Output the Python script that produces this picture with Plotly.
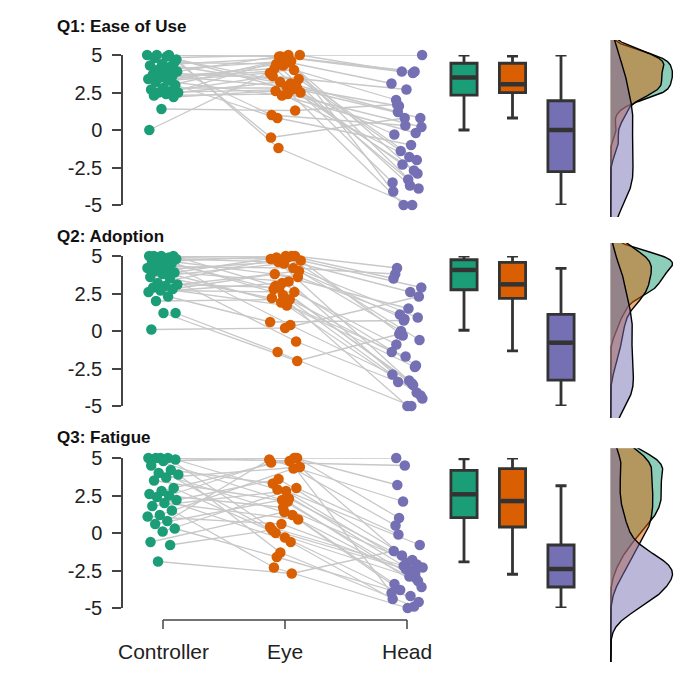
import numpy as np
import plotly.graph_objects as go

# ---------------- data ----------------
conditions = ["Controller", "Eye", "Head"]
questions = ["Q1: Ease of Use", "Q2: Adoption", "Q3: Fatigue"]
y_ticks = [5, 2.5, 0, -2.5, -5]
y_tick_labels = ["5", "2.5", "0", "-2.5", "-5"]

# per-participant ratings (same participant order across conditions)
q1_controller = [5.0, 4.9, 4.8, 4.5, 4.4, 4.3, 4.2, 4.0, 3.9, 3.8, 3.7, 3.6, 3.5, 3.4, 3.3,
                 3.2, 3.0, 2.8, 2.7, 2.6, 2.5, 2.5, 2.4, 2.3, 2.2, 1.4, 0.0, 5.0, 5.0, 4.7]
q1_eye = [4.9, 2.5, 5.0, 4.4, 3.0, 4.8, 1.0, 4.6, 4.9, 3.4, 2.9, 4.1, 4.0, 2.3, 3.8,
          4.5, 0.8, 2.8, 4.7, 3.6, 2.7, 3.2, 5.0, 2.4, 2.6, 1.3, 4.3, -0.5, 3.1, -1.2]
q1_head = [3.9, -2.3, 5.0, -3.7, 1.2, -2.9, 0.3, -4.1, 3.8, -1.4, 0.8, -3.3, 2.0, -0.2, -5.0,
           3.1, -1.0, 1.6, -3.9, 2.7, -0.3, -2.7, 3.9, 0.2, -1.8, 1.7, -2.0, 0.8, -3.5, -5.0]

q2_controller = [5.0, 5.0, 5.0, 5.0, 4.9, 4.9, 4.8, 4.7, 4.6, 4.5, 4.3, 4.2, 4.1, 4.0, 3.9,
                 3.8, 3.6, 3.5, 3.2, 3.1, 3.0, 2.9, 2.8, 2.7, 2.6, 2.3, 2.0, 1.2, 1.2, 0.1]
q2_eye = [4.9, 3.0, 5.0, 2.4, 4.8, 0.4, 4.6, 3.6, 5.0, 2.8, 4.2, 1.9, 4.7, 3.3, 4.9,
          -0.7, 4.5, 2.2, 5.0, 2.9, 4.0, 1.7, 3.8, 2.6, 3.2, 0.6, 2.1, -1.4, -2.0, 0.2]
q2_head = [2.9, -3.3, 4.2, -4.1, 0.8, -2.9, -3.5, 1.1, -0.6, -5.0, 3.8, -2.4, -0.3, -4.5, 2.6,
           -3.4, 0.9, -1.7, 3.5, -3.6, 0.0, -4.3, 1.5, -0.9, -2.3, 0.7, -1.4, -5.0, -0.2, 2.3]

q3_controller = [5.0, 5.0, 5.0, 5.0, 4.9, 4.8, 4.5, 4.2, 4.0, 3.9, 3.7, 3.5, 3.0, 2.8, 2.6,
                 2.5, 2.4, 2.2, 2.0, 1.8, 1.5, 1.2, 1.1, 0.8, 0.6, 0.3, 0.1, -0.6, -0.8, -1.9]
q3_eye = [5.0, 2.2, 0.4, 4.8, 2.9, 5.0, -0.3, 3.3, 1.2, -1.3, 4.4, 2.1, 0.0, 5.0, 1.7,
          4.7, -0.6, 3.6, 0.9, 2.8, -2.3, 4.3, 0.6, 4.9, 2.3, -1.6, 3.0, 1.4, 0.2, -2.7]
q3_head = [5.0, -3.0, -2.2, -4.0, -2.5, 1.0, -4.6, -2.0, -3.4, -4.9, -1.5, -3.6, -2.9, 3.2, -2.1,
           4.5, -4.4, -1.8, -3.8, -0.8, -5.0, 0.5, -2.7, 2.1, -2.3, -4.2, -0.1, -3.2, -2.4, -1.2]

# box statistics per question: [Controller, Eye, Head]
q1_box_low = [0.0, 0.8, -5.0]
q1_box_q1 = [2.33, 2.49, -2.78]
q1_box_median = [3.5, 3.05, 0.0]
q1_box_q3 = [4.45, 4.45, 1.95]
q1_box_high = [5.0, 4.92, 5.0]

q2_box_low = [0.05, -1.33, -5.0]
q2_box_q1 = [2.75, 2.18, -3.27]
q2_box_median = [4.07, 3.11, -0.78]
q2_box_q3 = [4.75, 4.58, 1.11]
q2_box_high = [5.0, 5.0, 4.18]

q3_box_low = [-1.93, -2.75, -5.0]
q3_box_q1 = [1.02, 0.4, -3.6]
q3_box_median = [2.58, 2.13, -2.4]
q3_box_q3 = [4.18, 4.29, -0.8]
q3_box_high = [4.95, 5.0, 3.15]

colors = ["#1B9E77", "#D95F02", "#7570B3"]
fills = ["rgba(27,158,119,0.5)", "rgba(217,95,2,0.5)", "rgba(117,112,179,0.5)"]

rows = [
    dict(title=questions[0], data=[q1_controller, q1_eye, q1_head],
         box=[q1_box_low, q1_box_q1, q1_box_median, q1_box_q3, q1_box_high]),
    dict(title=questions[1], data=[q2_controller, q2_eye, q2_head],
         box=[q2_box_low, q2_box_q1, q2_box_median, q2_box_q3, q2_box_high]),
    dict(title=questions[2], data=[q3_controller, q3_eye, q3_head],
         box=[q3_box_low, q3_box_q1, q3_box_median, q3_box_q3, q3_box_high]),
]

# ---------------- layout geometry (target pixels in the window) ----------------
OFF = 8                          # page body margin
W, H = 700 - OFF, 691 - OFF
PXU = 15.0                       # pixels per rating unit
row_y5 = [55, 256, 458]          # pixel of rating 5 per row
dens_range = [(-5.8, 6.0), (-5.8, 5.87), (-8.6, 5.65)]
title_y = [27, 236, 437]

def fx(p):
    return (p - OFF) / W

def fy(p):
    return 1 - (p - OFF) / H

FONT = "Liberation Sans, Arial, sans-serif"
TXT = "#222222"
AX = "#444444"

fig = go.Figure()
layout = dict(width=W, height=H, autosize=False,
              margin=dict(l=0, r=0, t=0, b=0, pad=0, autoexpand=False),
              paper_bgcolor="white", plot_bgcolor="rgba(0,0,0,0)",
              showlegend=False, font=dict(family=FONT, color=TXT))
annotations = []
shapes = []

# strip x axis: Controller=1 at 163px, Head=3 at 407px
sx_l, sx_r = 123, 440
spx = (407 - 163) / 2.0
strip_range = [1 - (163 - sx_l) / spx, 3 + (sx_r - 407) / spx]
# box x axis
bx_l, bx_r = 440, 592
bpx = (561 - 464) / 2.0
box_range = [-(464 - bx_l) / bpx, 2 + (bx_r - 561) / bpx]
BOXW = 0.54
# density x axis
dx_l, dx_r = 609, 698

def nrd0(x):
    x = np.asarray(x, float)
    sd = np.std(x, ddof=1)
    iqr = np.subtract(*np.percentile(x, [75, 25]))
    lo = min(sd, iqr / 1.34) if iqr > 0 else sd
    return 0.9 * lo * len(x) ** (-0.2)

for r, row in enumerate(rows):
    n = r + 1
    xs, ys, xb, yb, xd, yd = (f"x{n}", f"y{n}", f"x{n+3}", f"y{n+3}", f"x{n+6}", f"y{n+6}")
    top = row_y5[r]
    bot = top + 10 * PXU
    ydom = [fy(bot), fy(top)]

    # ----- paired lines + points -----
    vals = row["data"]
    npart = len(vals[0])
    jit = [[((i * 0.6180339 + 0.37 * k + 0.21 * r) % 1.0 - 0.5) * 0.26 for i in range(npart)]
           for k in range(3)]
    lx, ly = [], []
    for i in range(npart):
        for k in range(3):
            lx.append(k + 1 + jit[k][i])
            ly.append(vals[k][i])
        lx.append(None)
        ly.append(None)
    fig.add_trace(go.Scatter(x=lx, y=ly, mode="lines", xaxis=xs, yaxis=ys,
                             line=dict(color="#C8C8C8", width=1.3), hoverinfo="skip",
                             cliponaxis=False))
    for k in range(3):
        fig.add_trace(go.Scatter(x=[k + 1 + j for j in jit[k]], y=vals[k], mode="markers",
                                 xaxis=xs, yaxis=ys, cliponaxis=False,
                                 marker=dict(color=colors[k], size=10.5, line=dict(width=0))))

    # ----- boxes -----
    lowf, q1s, meds, q3s, highf = row["box"]
    for k in range(3):
        fig.add_trace(go.Box(x=[k], q1=[q1s[k]], median=[meds[k]], q3=[q3s[k]],
                             lowerfence=[lowf[k]], upperfence=[highf[k]],
                             xaxis=xb, yaxis=yb, width=BOXW, whiskerwidth=0.42,
                             fillcolor=colors[k], line=dict(color="#333333", width=2.8),
                             hoverinfo="skip"))
        # thicker median bar
        shapes.append(dict(type="line", xref=xb, yref=yb, x0=k - BOXW / 2 + 0.03,
                           x1=k + BOXW / 2 - 0.03, y0=meds[k], y1=meds[k],
                           line=dict(color="#333333", width=4.5)))

    # ----- densities -----
    grid = np.linspace(-10, 8, 600)
    dens = []
    for k in range(3):
        v = np.asarray(vals[k], float)
        bw = nrd0(v)
        d = np.exp(-0.5 * ((grid[:, None] - v[None, :]) / bw) ** 2).sum(axis=1)
        d /= (len(v) * bw * np.sqrt(2 * np.pi))
        dens.append(d)
    dmax = max(d.max() for d in dens)
    scale = 62.0 / dmax  # px per density unit
    for k in range(3):
        fig.add_trace(go.Scatter(x=np.concatenate([[0], dens[k], [0]]),
                                 y=np.concatenate([[grid[0]], grid, [grid[-1]]]),
                                 mode="lines", fill="toself", fillcolor=fills[k],
                                 line=dict(color="black", width=1.4),
                                 xaxis=xd, yaxis=yd, hoverinfo="skip"))
    dlo, dhi = dens_range[r]
    dtop = top - (dhi - 5) * PXU
    dbot = top + (5 - dlo) * PXU

    ax_hidden = dict(visible=False, showgrid=False, zeroline=False, automargin=False)
    layout[f"xaxis{n}"] = dict(ax_hidden, domain=[fx(sx_l), fx(sx_r)], range=strip_range,
                               anchor=ys)
    layout[f"yaxis{n}"] = dict(domain=ydom, range=[-5, 5], anchor=xs, showgrid=False,
                               zeroline=False, showline=True, linecolor=AX, linewidth=1.5,
                               ticks="outside", ticklen=9, tickwidth=1.5, tickcolor=AX,
                               tickvals=y_ticks, ticktext=y_tick_labels, automargin=False,
                               tickfont=dict(size=20, color=TXT, family=FONT),
                               ticklabelstandoff=6)
    layout[f"xaxis{n+3}"] = dict(ax_hidden, domain=[fx(bx_l), fx(bx_r)], range=box_range,
                                 anchor=yb)
    layout[f"yaxis{n+3}"] = dict(ax_hidden, domain=ydom, range=[-5, 5], anchor=xb)
    layout[f"xaxis{n+6}"] = dict(ax_hidden, domain=[fx(dx_l), fx(dx_r)],
                                 range=[-1.5 / scale, (dx_r - dx_l - 1.5) / scale], anchor=yd)
    layout[f"yaxis{n+6}"] = dict(ax_hidden, domain=[fy(dbot), fy(dtop)], range=[dlo, dhi],
                                 anchor=xd)

    annotations.append(dict(text=f"<b>{row['title']}</b>", x=fx(55), y=fy(title_y[r]),
                            xref="paper", yref="paper", xanchor="left", yanchor="middle",
                            showarrow=False, font=dict(size=17, color="#111111", family=FONT)))

# bottom category axis for the last row
axis_py = 620
shapes.append(dict(type="line", xref="x3", yref="paper", x0=1, x1=3,
                   y0=fy(axis_py), y1=fy(axis_py), line=dict(color=AX, width=1.5)))
for k, name in enumerate(conditions):
    shapes.append(dict(type="line", xref="x3", yref="paper", x0=k + 1, x1=k + 1,
                       y0=fy(axis_py), y1=fy(axis_py + 9), line=dict(color=AX, width=1.5)))
    annotations.append(dict(text=name, x=k + 1, y=fy(651), xref="x3", yref="paper",
                            xanchor="center", yanchor="middle", showarrow=False,
                            font=dict(size=21, color=TXT, family=FONT)))

layout["annotations"] = annotations
layout["shapes"] = shapes
fig.update_layout(**layout)
fig.write_html("out.html")
